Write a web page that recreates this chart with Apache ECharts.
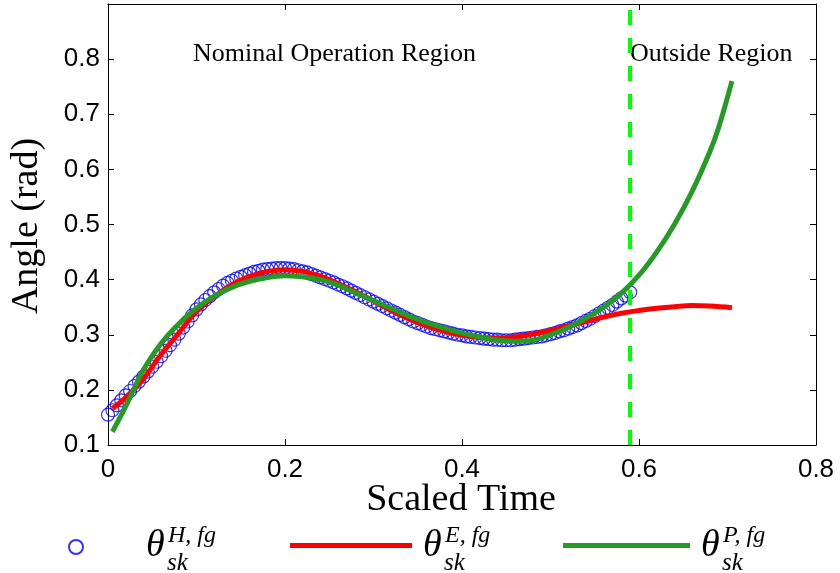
<!DOCTYPE html>
<html>
<head>
<meta charset="utf-8">
<script src="https://cdn.jsdelivr.net/npm/echarts@6/dist/echarts.min.js"></script>
<style>html,body{margin:0;padding:0;background:#fff}#c{width:840px;height:573px}</style>
</head>
<body>
<div id="c"></div>
<script>
// ---- data ----
const xTicks = [0, 0.2, 0.4, 0.6, 0.8];
const yTicks = [0.1, 0.2, 0.3, 0.4, 0.5, 0.6, 0.7, 0.8];
const yMax = 0.9;
const boundaryT = 0.587;
const seriesNames = ['theta_H', 'theta_E', 'theta_P'];
const legendSup = ['H, fg', 'E, fg', 'P, fg'];
const regionLabels = ['Nominal Operation Region', 'Outside Region'];

const humanT = [0.000,0.005,0.010,0.015,0.020,0.025,0.030,0.035,0.040,0.045,
                0.050,0.055,0.060,0.065,0.070,0.075,0.080,0.085,0.090,0.095,
                0.100,0.105,0.110,0.115,0.120,0.125,0.130,0.135,0.140,0.145,
                0.150,0.155,0.160,0.165,0.170,0.175,0.180,0.185,0.190,0.195,
                0.200,0.205,0.210,0.215,0.220,0.225,0.230,0.235,0.240,0.245,
                0.250,0.255,0.260,0.265,0.270,0.275,0.280,0.285,0.290,0.295,
                0.300,0.305,0.310,0.315,0.320,0.325,0.330,0.335,0.340,0.345,
                0.350,0.355,0.360,0.365,0.370,0.375,0.380,0.385,0.390,0.395,
                0.400,0.405,0.410,0.415,0.420,0.425,0.430,0.435,0.440,0.445,
                0.450,0.455,0.460,0.465,0.470,0.475,0.480,0.485,0.490,0.495,
                0.500,0.505,0.510,0.515,0.520,0.525,0.530,0.535,0.540,0.545,
                0.550,0.555,0.560,0.565,0.570,0.575,0.580,0.585,0.590];
const humanAngle = [0.155,0.163,0.172,0.181,0.190,0.198,0.207,0.215,0.224,0.233,
                    0.242,0.251,0.261,0.271,0.281,0.291,0.302,0.313,0.324,0.335,
                    0.346,0.355,0.363,0.370,0.377,0.383,0.389,0.394,0.398,0.402,
                    0.405,0.408,0.411,0.414,0.416,0.418,0.419,0.420,0.421,0.421,
                    0.421,0.420,0.419,0.417,0.415,0.413,0.410,0.407,0.404,0.401,
                    0.398,0.395,0.391,0.388,0.384,0.380,0.376,0.372,0.368,0.364,
                    0.360,0.356,0.352,0.348,0.344,0.340,0.336,0.332,0.328,0.324,
                    0.321,0.318,0.315,0.312,0.310,0.308,0.306,0.304,0.302,0.300,
                    0.299,0.297,0.296,0.295,0.294,0.293,0.292,0.291,0.291,0.290,
                    0.290,0.290,0.291,0.292,0.293,0.294,0.295,0.296,0.297,0.299,
                    0.301,0.303,0.306,0.308,0.311,0.314,0.317,0.321,0.325,0.329,
                    0.334,0.339,0.344,0.349,0.354,0.360,0.366,0.371,0.377];

const expT = [0.005,0.02,0.04,0.06,0.08,0.10,0.12,0.14,0.16,0.18,0.20,0.22,0.24,0.26,0.28,0.30,
              0.32,0.34,0.36,0.38,0.40,0.42,0.44,0.46,0.48,0.50,0.52,0.54,0.56,0.58,0.60,0.62,
              0.64,0.66,0.68,0.705];
const expAngle = [0.166,0.186,0.220,0.264,0.303,0.342,0.369,0.391,0.406,0.415,0.418,0.415,0.406,0.393,0.378,0.361,
                  0.344,0.329,0.316,0.306,0.299,0.295,0.294,0.296,0.301,0.308,0.316,0.324,0.332,0.339,0.344,0.348,
                  0.351,0.353,0.352,0.349];

const predT = [0.005,0.02,0.04,0.06,0.08,0.10,0.12,0.14,0.16,0.18,0.20,0.22,0.24,0.26,0.28,0.30,
               0.32,0.34,0.36,0.38,0.40,0.42,0.44,0.46,0.48,0.50,0.52,0.54,0.56,0.58,0.60,0.62,
               0.64,0.66,0.68,0.69,0.705];
const predAngle = [0.124,0.170,0.236,0.284,0.320,0.348,0.370,0.386,0.397,0.404,0.407,0.405,0.400,0.390,0.376,0.362,
                   0.348,0.334,0.322,0.312,0.303,0.296,0.290,0.288,0.290,0.300,0.313,0.330,0.350,0.375,0.408,0.450,
                   0.500,0.560,0.632,0.676,0.760];

// ---- chart ----
const chart = echarts.init(document.getElementById('c'), null, {renderer: 'canvas'});
const sansFont = 'Liberation Sans, Arial, sans-serif';
const serifFont = 'Liberation Serif, Times New Roman, serif';
const pair = (xs, ys) => xs.map((x, i) => [x, ys[i]]);

const axisBase = {
  type: 'value',
  axisLine: {show: true, onZero: false, lineStyle: {color: '#000', width: 1}},
  axisTick: {show: true, inside: true, length: 6, lineStyle: {color: '#000', width: 1}},
  splitLine: {show: false}
};

function mathLabel(x, sup) {
  return [
    {type: 'text', x: x, y: 546, style: {text: '\u03b8', fontSize: 38, fontFamily: serifFont, fontStyle: 'italic', fill: '#000', align: 'left', verticalAlign: 'middle'}},
    {type: 'text', x: x + 22, y: 536, style: {text: sup, fontSize: 24, fontFamily: serifFont, fontStyle: 'italic', fill: '#000', align: 'left', verticalAlign: 'middle'}},
    {type: 'text', x: x + 21, y: 563, style: {text: 'sk', fontSize: 25, fontFamily: serifFont, fontStyle: 'italic', fill: '#000', align: 'left', verticalAlign: 'middle'}}
  ];
}

const option = {
  animation: false,
  backgroundColor: '#fff',
  grid: {left: 108, right: 24, top: 4, bottom: 128, containLabel: false},
  xAxis: [
    Object.assign({}, axisBase, {
      position: 'bottom', min: xTicks[0], max: xTicks[xTicks.length - 1], interval: 0.2,
      axisLabel: {show: true, margin: 12, color: '#000', fontSize: 26, fontFamily: sansFont,
        formatter: v => (Math.abs(v) < 1e-9 ? '0' : v.toFixed(1))}
    }),
    Object.assign({}, axisBase, {
      position: 'top', min: xTicks[0], max: xTicks[xTicks.length - 1], interval: 0.2,
      axisLabel: {show: false}
    })
  ],
  yAxis: [
    Object.assign({}, axisBase, {
      position: 'left', min: yTicks[0], max: yMax, interval: 0.1,
      axisLabel: {show: true, margin: 8, color: '#000', fontSize: 26, fontFamily: sansFont,
        formatter: v => (v > yTicks[yTicks.length - 1] + 0.05 ? '' : v.toFixed(1))}
    }),
    Object.assign({}, axisBase, {
      position: 'right', min: yTicks[0], max: yMax, interval: 0.1,
      axisLabel: {show: false}
    })
  ],
  legend: [
    {data: [seriesNames[0]], left: 68, top: 539, padding: 0, itemWidth: 14, itemHeight: 14, formatter: () => '', selectedMode: false},
    {data: [{name: seriesNames[1], icon: 'rect'}], left: 290, top: 543, padding: 0, itemWidth: 122, itemHeight: 5, formatter: () => '', selectedMode: false},
    {data: [{name: seriesNames[2], icon: 'rect'}], left: 563, top: 543, padding: 0, itemWidth: 127, itemHeight: 5, formatter: () => '', selectedMode: false}
  ],
  series: [
    {
      name: seriesNames[0], type: 'scatter', xAxisIndex: 0, yAxisIndex: 0, z: 2,
      data: pair(humanT, humanAngle),
      symbol: 'circle', symbolSize: 13,
      itemStyle: {color: 'rgba(0,0,0,0)', borderColor: '#0000ff', borderWidth: 1.2}
    },
    {
      name: seriesNames[1], type: 'line', xAxisIndex: 0, yAxisIndex: 0, z: 3,
      data: pair(expT, expAngle), showSymbol: false, symbol: 'none', smooth: 0.4,
      lineStyle: {color: '#ff0000', width: 5}, itemStyle: {color: '#ff0000'}
    },
    {
      name: seriesNames[2], type: 'line', xAxisIndex: 0, yAxisIndex: 0, z: 4,
      data: pair(predT, predAngle), showSymbol: false, symbol: 'none', smooth: 0.4,
      lineStyle: {color: '#259b25', width: 5}, itemStyle: {color: '#259b25'},
      markLine: {
        silent: true, symbol: ['none', 'none'], label: {show: false}, z: 5,
        lineStyle: {color: '#00ff00', width: 4, type: [15, 13]},
        emphasis: {disabled: true},
        data: [{xAxis: boundaryT}]
      }
    }
  ],
  graphic: [
    {type: 'text', x: 193, y: 54, style: {text: regionLabels[0], fontSize: 26, fontFamily: serifFont, fill: '#000', align: 'left', verticalAlign: 'middle'}},
    {type: 'text', x: 630, y: 54, style: {text: regionLabels[1], fontSize: 26, fontFamily: serifFont, fill: '#000', align: 'left', verticalAlign: 'middle'}},
    {type: 'text', x: 461, y: 500, style: {text: 'Scaled Time', fontSize: 38, fontFamily: serifFont, fill: '#000', align: 'center', verticalAlign: 'middle'}},
    {type: 'text', x: 27, y: 226, rotation: Math.PI / 2, style: {text: 'Angle (rad)', fontSize: 38, fontFamily: serifFont, fill: '#000', align: 'center', verticalAlign: 'middle'}}
  ].concat(mathLabel(146, legendSup[0]), mathLabel(423, legendSup[1]), mathLabel(701, legendSup[2]))
};
chart.setOption(option);
</script>
</body>
</html>
